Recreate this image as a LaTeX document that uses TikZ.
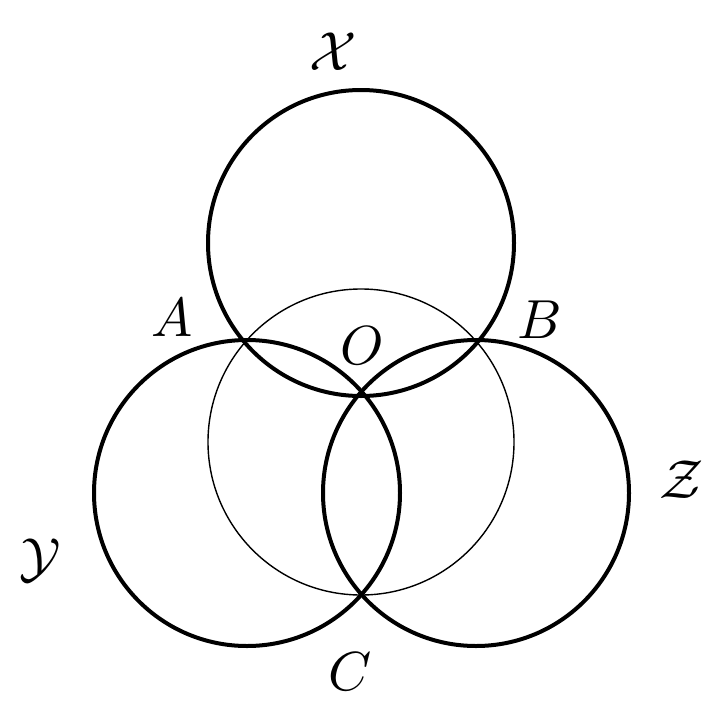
\documentclass[tikz,border=0pt]{standalone}
\begin{document}
\begin{tikzpicture}[x=1pt,y=-1pt,
  thickc/.style={line width=4pt},
  thinc/.style={line width=1.4pt},
  lab/.style={inner sep=0pt}]
\useasboundingbox (0,0) rectangle (725,717);
\coordinate (cX) at (361,243);
\coordinate (cY) at (247,493);
\coordinate (cZ) at (476,493);
\coordinate (cM) at (361,442);
\draw[thinc] (cM) circle[radius=153];
\draw[thickc] (cX) circle[radius=153];
\draw[thickc] (cY) circle[radius=153];
\draw[thickc] (cZ) circle[radius=153];
\node[lab] (X) at (333,52) {\scalebox{5.5}{$\mathcal{X}$}};
\node[lab] (Y) at (40,560) {\scalebox{5.5}{$\mathcal{Y}$}};
\node[lab] (Z) at (682,480) {\scalebox{5.5}{$\mathcal{Z}$}};
\node[lab] (A) at (172,318) {\scalebox{5.5}{$A$}};
\node[lab] (B) at (540,320) {\scalebox{5.5}{$B$}};
\node[lab] (O) at (362,346) {\scalebox{5.5}{$O$}};
\node[lab] (C) at (350,672) {\scalebox{5.5}{$C$}};
\end{tikzpicture}
\end{document}
